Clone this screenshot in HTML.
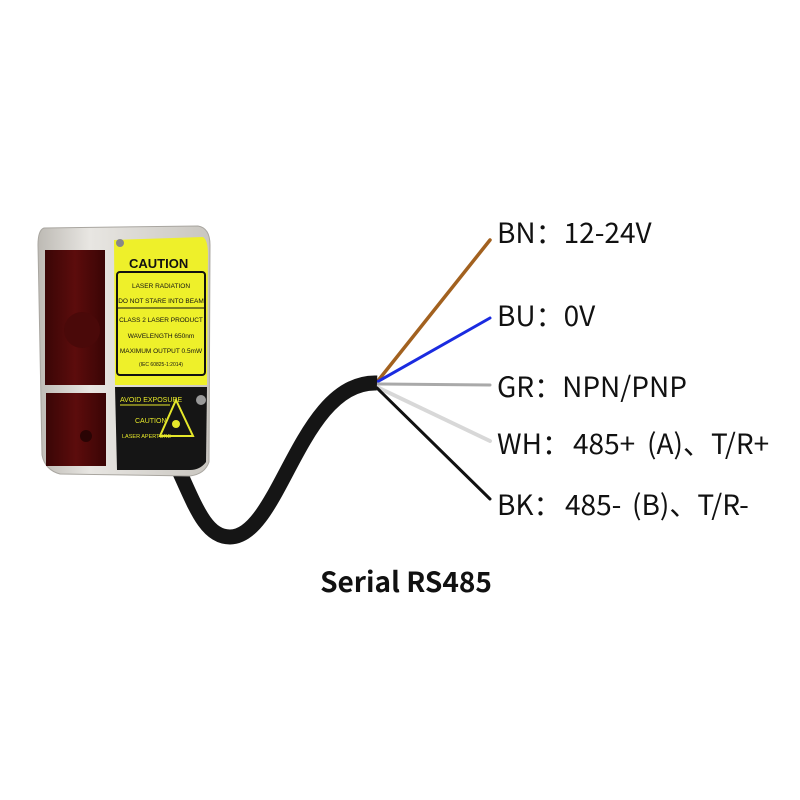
<!DOCTYPE html>
<html><head><meta charset="utf-8"><style>
html,body{margin:0;padding:0;background:#fff;}
svg{display:block}
.t{font-family:"Noto Sans CJK SC",sans-serif;font-size:28px;fill:#111;white-space:pre}
</style></head><body>
<svg width="800" height="800" viewBox="0 0 800 800" xmlns="http://www.w3.org/2000/svg">
<defs>
<linearGradient id="metal" x1="0" y1="0" x2="1" y2="0">
<stop offset="0" stop-color="#bdbab4"/><stop offset="0.3" stop-color="#e8e6e2"/><stop offset="1" stop-color="#c9c6c0"/>
</linearGradient>
<linearGradient id="red" x1="0" y1="0" x2="1" y2="0">
<stop offset="0" stop-color="#3a0606"/><stop offset="0.5" stop-color="#5c0c0c"/><stop offset="1" stop-color="#3a0505"/>
</linearGradient>
</defs>
<g stroke-linecap="round" fill="none">
<line x1="377" y1="382" x2="490" y2="240" stroke="#a2611f" stroke-width="3.5"/>
<line x1="377" y1="382" x2="490" y2="318" stroke="#1a2be0" stroke-width="3"/>
<line x1="377" y1="384" x2="490" y2="385" stroke="#a9a9a9" stroke-width="3"/>
<line x1="377" y1="387" x2="490" y2="441" stroke="#d8d8d8" stroke-width="4"/>
<line x1="377" y1="388" x2="490" y2="499" stroke="#111" stroke-width="3"/>
</g>
<path d="M175 462 C195 505,205 537,230 537 C280 537,300 380,377 383" stroke="#151515" stroke-width="15" fill="none" stroke-linecap="butt"/>
<path d="M44 228 L198 226 Q210 228 210 245 L209 462 Q205 474 190 476 L60 474 Q45 470 42 455 L38 245 Q38 230 44 228 Z" fill="url(#metal)" stroke="#a9a6a0" stroke-width="1"/>
<rect x="45" y="250" width="60" height="135" fill="url(#red)"/>
<rect x="46" y="393" width="60" height="73" fill="url(#red)"/>
<circle cx="82" cy="330" r="18" fill="#4a0909"/>
<circle cx="86" cy="436" r="6" fill="#2a0404"/>
<path d="M114 240 L203 237 Q208 240 208 255 L207 385 L115 385 Z" fill="#eef02a"/>
<circle cx="120" cy="243" r="4" fill="#888"/>
<text x="129" y="268" font-family="Liberation Sans,sans-serif" font-size="13" font-weight="bold" fill="#111">CAUTION</text>
<rect x="117" y="272" width="88" height="103" rx="3" fill="none" stroke="#111" stroke-width="2"/>
<g font-family="Liberation Sans,sans-serif" font-size="6.5" fill="#111" text-anchor="middle">
<text x="161" y="288">LASER RADIATION</text>
<text x="161" y="303">DO NOT STARE INTO BEAM</text>
<line x1="118" y1="308" x2="204" y2="308" stroke="#111"/>
<text x="161" y="322">CLASS 2 LASER PRODUCT</text>
<text x="161" y="338">WAVELENGTH 650nm</text>
<text x="161" y="353">MAXIMUM OUTPUT 0.5mW</text>
<text x="161" y="366" font-size="5">(IEC 60825-1:2014)</text>
</g>
<path d="M115 387 L207 387 L206 462 Q200 470 190 470 L117 470 Z" fill="#151515"/>
<circle cx="201" cy="400" r="5" fill="#999"/>
<g font-family="Liberation Sans,sans-serif" fill="#e6e82a">
<text x="120" y="402" font-size="7">AVOID EXPOSURE</text>
<line x1="120" y1="405" x2="170" y2="405" stroke="#e6e82a"/>
<text x="135" y="423" font-size="7">CAUTION</text>
<text x="122" y="438" font-size="5.5">LASER APERTURE</text>
<path d="M176 400 L193 436 L160 436 Z" fill="none" stroke="#e6e82a" stroke-width="2"/>
<circle cx="176" cy="424" r="4" fill="#e6e82a"/>
</g>
<text class="t" x="497" y="243">BN：12-24V</text>
<text class="t" x="497" y="326">BU：0V</text>
<text class="t" x="497" y="397">GR：NPN/PNP</text>
<text class="t" x="497" y="454">WH：<tspan x="573">485+</tspan><tspan x="647">(A)、T/R+</tspan></text>
<text class="t" x="497" y="515">BK：<tspan x="565">485-</tspan><tspan x="632">(B)、T/R-</tspan></text>
<text x="406" y="592" text-anchor="middle" font-family="'Noto Sans CJK SC',sans-serif" font-size="28" font-weight="bold" fill="#111">Serial RS485</text>
</svg>
</body></html>
